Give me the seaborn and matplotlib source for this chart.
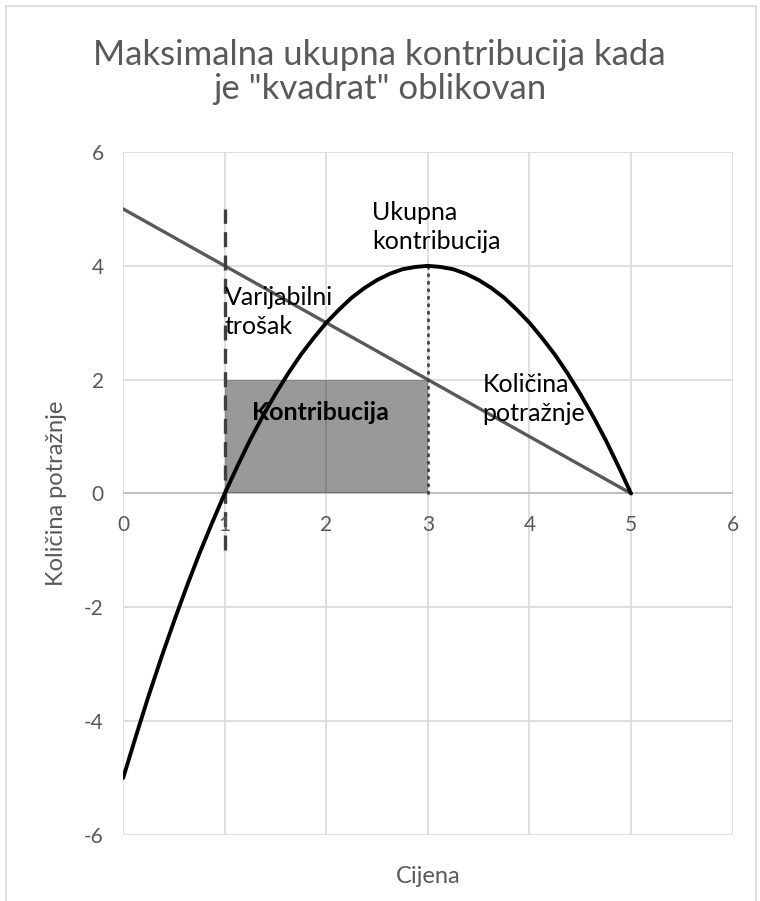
import numpy as np
import pandas as pd
import seaborn as sns
import matplotlib.pyplot as plt
from matplotlib.patches import Rectangle

# cijena (x) i ukupna kontribucija ocitane sa slike
cijena = [0, 0.125, 0.25, 0.375, 0.5, 0.625, 0.75, 0.875, 1,
          1.125, 1.25, 1.375, 1.5, 1.625, 1.75, 1.875, 2,
          2.125, 2.25, 2.375, 2.5, 2.625, 2.75, 2.875, 3,
          3.125, 3.25, 3.375, 3.5, 3.625, 3.75, 3.875, 4,
          4.125, 4.25, 4.375, 4.5, 4.625, 4.75, 4.875, 5]
ukupna_kontribucija = [-5, -4.27, -3.56, -2.89, -2.25, -1.64, -1.06, -0.52, 0,
                       0.48, 0.94, 1.36, 1.75, 2.11, 2.44, 2.73, 3,
                       3.23, 3.44, 3.61, 3.75, 3.86, 3.94, 3.98, 4,
                       3.98, 3.94, 3.86, 3.75, 3.61, 3.44, 3.23, 3,
                       2.73, 2.44, 2.11, 1.75, 1.36, 0.94, 0.48, 0]
potraznja_x = [0, 5]
potraznja_y = [5, 0]
varijabilni_x = [1, 1]
varijabilni_y = [-1, 5]
vrh_x = [3, 3]
vrh_y = [0, 4]
kvadrat_x = [1, 3]
kvadrat_y = [2, 2]

sns.set_theme(style="white")
plt.rcParams['font.family'] = ['Lato', 'DejaVu Sans']
plt.rcParams['axes.unicode_minus'] = False

fig = plt.figure(figsize=(7.6, 9.01), dpi=100)
ax = fig.add_axes([0.162, 0.0733, 0.802, 0.758])

grid_col = "#d9d9d9"
for gx in range(0, 7):
    ax.axvline(gx, color=grid_col, lw=1.2, zorder=0)
for gy in range(-6, 7, 2):
    ax.axhline(gy, color=grid_col, lw=1.2, zorder=0)
ax.axhline(0, color="#bfbfbf", lw=1.4, zorder=0.5)

# pravokutnik kontribucije
ax.fill_between(kvadrat_x, 0, kvadrat_y, color="black", alpha=0.4, lw=0, zorder=1)

df_c = pd.DataFrame({"x": cijena, "y": ukupna_kontribucija})
sns.lineplot(data=df_c, x="x", y="y", ax=ax, color="black", lw=2.8, zorder=4)
sns.lineplot(x=potraznja_x, y=potraznja_y, ax=ax, color="#595959", lw=2.4, zorder=3)
ax.plot(varijabilni_x, varijabilni_y, color="#404040", lw=2.4,
        linestyle=(0, (4.5, 2.5)), zorder=3)
ax.plot(vrh_x, vrh_y, color="#404040", lw=2.0, linestyle=(0, (0.5, 2.2)),
        dash_capstyle="round", zorder=3)

ax.set_xlim(0, 6)
ax.set_ylim(-6, 6)
for s in ax.spines.values():
    s.set_visible(False)
ax.set_xticks([])
ax.set_yticks(range(-6, 7, 2))
ax.tick_params(axis="y", length=0, pad=14, labelsize=15, labelcolor="#595959")
for gx in range(0, 7):
    ax.text(gx, -0.55, str(gx), ha="center", va="center", fontsize=15, color="#595959")

ax.set_xlabel("Cijena", fontsize=17, color="#595959")
ax.set_ylabel("Količina potražnje", fontsize=17, color="#595959", labelpad=12)
ax.xaxis.set_label_coords(0.5, -0.045)

ax.set_title('Maksimalna ukupna kontribucija kada\nje "kvadrat" oblikovan',
             fontsize=25, color="#595959", pad=38, linespacing=1.1, x=0.421)

txt = dict(fontsize=18, color="black", linespacing=1.32, zorder=6)
ax.text(2.45, 4.68, "Ukupna\nkontribucija", ha="left", va="center", **txt)
ax.text(1.0, 3.19, "Varijabilni\ntrošak", ha="left", va="center", **txt)
ax.text(1.94, 1.43, "Kontribucija", ha="center", va="center", fontweight="bold", **txt)
ax.text(3.54, 1.66, "Količina\npotražnje", ha="left", va="center", **txt)

fig.patches.append(Rectangle((6 / 760, -0.01), 750 / 760, 1 - 6 / 901 + 0.01,
                             transform=fig.transFigure, fill=False,
                             edgecolor=grid_col, lw=1.2))

fig.savefig("out.png", dpi=100)
